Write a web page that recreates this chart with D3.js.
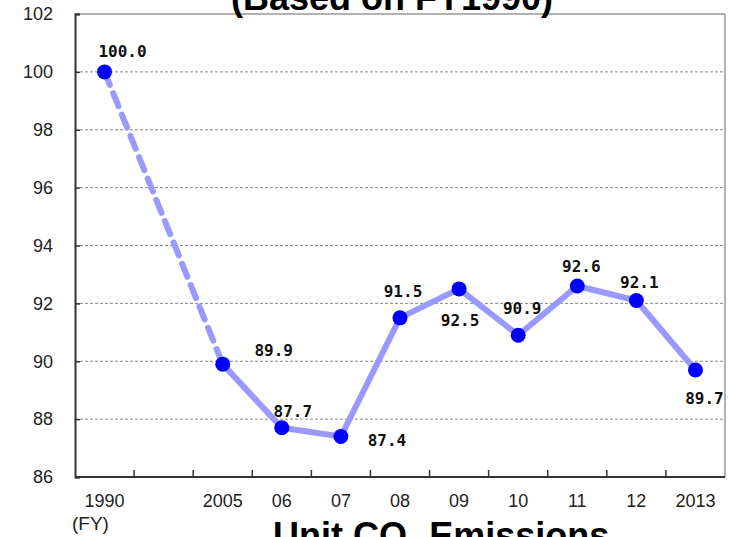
<!DOCTYPE html>
<html>
<head>
<meta charset="utf-8">
<script src="https://cdn.jsdelivr.net/npm/d3@7/dist/d3.min.js"></script>
<style>
  body { margin: 0; background: #fff; }
  svg { display: block; }
</style>
</head>
<body>
<svg id="chart" width="730" height="537"></svg>
<script>
// data
const years = ["1990", "gap", "2005", "06", "07", "08", "09", "10", "11", "12", "2013"];
const yearLabels = ["1990", "", "2005", "06", "07", "08", "09", "10", "11", "12", "2013"];
const pointYears = ["1990", "2005", "06", "07", "08", "09", "10", "11", "12", "2013"];
const values = [100.0, 89.9, 87.7, 87.4, 91.5, 92.5, 90.9, 92.6, 92.1, 89.7];
const yTicks = [86, 88, 90, 92, 94, 96, 98, 100, 102];

// label placement relative to each point (dx, dy)
const labelDx = [18, 51, 11, 46, 3, 1, 4, 4, 3, 9];
const labelDy = [-15, -8, -11, 10, -21, 37, -21, -14, -12, 34];

const svg = d3.select("#chart");
const plotL = 75, plotR = 725, plotT = 14, plotB = 477;

const x = d3.scaleBand().domain(years).range([plotL, plotR]);
const y = d3.scaleLinear().domain([86, 102]).range([plotB, plotT]);

// gridlines
svg.append("g")
    .selectAll("line")
    .data(yTicks.filter(t => t > 86 && t < 102))
    .join("line")
    .attr("x1", plotL).attr("x2", plotR)
    .attr("y1", d => y(d)).attr("y2", d => y(d))
    .attr("stroke", "#888")
    .attr("stroke-width", 1)
    .attr("stroke-dasharray", "3,2");

// frame: top and right grey, left and bottom dark
svg.append("line").attr("x1", plotL).attr("x2", plotR).attr("y1", plotT).attr("y2", plotT)
    .attr("stroke", "#999").attr("stroke-width", 1.5);
svg.append("line").attr("x1", plotR).attr("x2", plotR).attr("y1", plotT).attr("y2", plotB)
    .attr("stroke", "#999").attr("stroke-width", 1.5);

// y axis
const yAxis = svg.append("g")
    .attr("transform", `translate(${plotL},0)`)
    .call(d3.axisLeft(y).tickValues(yTicks).tickSize(-5).tickPadding(22));
yAxis.select(".domain").attr("stroke", "#333").attr("stroke-width", 2);
yAxis.selectAll(".tick line").attr("stroke", "#333").attr("stroke-width", 1.5);
yAxis.selectAll("text")
    .attr("font-family", "Liberation Sans, Arial, sans-serif")
    .attr("font-size", 18)
    .attr("fill", "#222");

// x axis with ticks on band boundaries
svg.append("line").attr("x1", plotL).attr("x2", plotR).attr("y1", plotB).attr("y2", plotB)
    .attr("stroke", "#333").attr("stroke-width", 2);
svg.append("g")
    .selectAll("line")
    .data(years.slice(1))
    .join("line")
    .attr("x1", d => x(d)).attr("x2", d => x(d))
    .attr("y1", plotB).attr("y2", plotB - 7)
    .attr("stroke", "#333").attr("stroke-width", 1.5);
svg.append("g")
    .selectAll("text")
    .data(years)
    .join("text")
    .attr("x", d => x(d) + x.bandwidth() / 2)
    .attr("y", 507)
    .attr("text-anchor", "middle")
    .attr("font-family", "Liberation Sans, Arial, sans-serif")
    .attr("font-size", 18)
    .attr("fill", "#222")
    .text((d, i) => yearLabels[i]);

svg.append("text")
    .attr("x", 72).attr("y", 530)
    .attr("font-family", "Liberation Sans, Arial, sans-serif")
    .attr("font-size", 19)
    .attr("fill", "#222")
    .text("(FY)");

// series
const pts = pointYears.map((yr, i) => ({ yr, v: values[i], dx: labelDx[i], dy: labelDy[i] }));
const cx = d => x(d.yr) + x.bandwidth() / 2;
const line = d3.line().x(cx).y(d => y(d.v));

svg.append("path")
    .datum(pts.slice(0, 2))
    .attr("d", line)
    .attr("fill", "none")
    .attr("stroke", "#9999ff")
    .attr("stroke-width", 6)
    .attr("stroke-dasharray", "14,9")
    .attr("stroke-linecap", "round");

svg.append("path")
    .datum(pts.slice(1))
    .attr("d", line)
    .attr("fill", "none")
    .attr("stroke", "#9999ff")
    .attr("stroke-width", 6)
    .attr("stroke-linejoin", "round");

svg.append("g")
    .selectAll("circle")
    .data(pts)
    .join("circle")
    .attr("cx", cx)
    .attr("cy", d => y(d.v))
    .attr("r", 7.5)
    .attr("fill", "#0000ff");

svg.append("g")
    .selectAll("text")
    .data(pts)
    .join("text")
    .attr("x", d => cx(d) + d.dx)
    .attr("y", d => y(d.v) + d.dy)
    .attr("text-anchor", "middle")
    .attr("font-family", "DejaVu Sans Mono, Liberation Mono, monospace")
    .attr("font-weight", "bold")
    .attr("font-size", 16)
    .attr("fill", "#111")
    .text(d => d.v.toFixed(1));

// titles (cut off by the page edges)
svg.append("text")
    .attr("x", 392).attr("y", 10)
    .attr("text-anchor", "middle")
    .attr("font-family", "Liberation Sans, Arial, sans-serif")
    .attr("font-weight", "bold")
    .attr("font-size", 36)
    .attr("fill", "#000")
    .text("(Based on FY1990)");

const t2 = svg.append("text")
    .attr("x", 273).attr("y", 548)
    .attr("font-family", "Liberation Sans, Arial, sans-serif")
    .attr("font-weight", "bold")
    .attr("font-size", 36)
    .attr("fill", "#000");
t2.append("tspan").text("Unit CO");
t2.append("tspan").attr("font-size", 22).attr("dy", 8).text("2");
t2.append("tspan").attr("dy", -8).text(" Emissions");
</script>
</body>
</html>
